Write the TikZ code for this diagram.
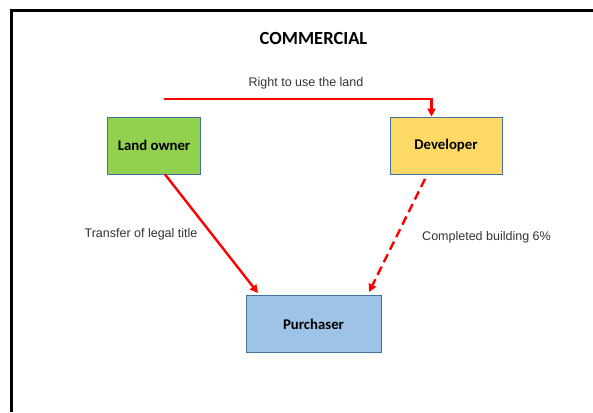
\documentclass[tikz,border=0pt]{standalone}
\usepackage{fontspec}
\setmainfont{Carlito}
\newfontfamily\arialfont{Liberation Sans}
\usepackage{tikz}
\usetikzlibrary{arrows.meta}
\definecolor{boxgreen}{HTML}{92D050}
\definecolor{boxyellow}{HTML}{FFD966}
\definecolor{boxblue}{HTML}{9DC3E6}
\definecolor{boxline}{HTML}{41719C}
\definecolor{labelgray}{HTML}{333333}

\begin{document}
\begin{tikzpicture}[x=1pt,y=-1pt,>={Triangle[length=8pt,width=8pt]},
                    line width=2.4pt]
  \tikzstyle{every party}=[draw=boxline,line width=0.8pt,inner sep=0pt,
                           font=\fontsize{14.8}{16}\selectfont\bfseries]
  \tikzstyle{flow}=[->,red]
  \tikzstyle{flowtext}=[font=\arialfont\fontsize{12.5}{14}\selectfont,
                        text=labelgray,inner sep=0pt]

  \useasboundingbox (0,0) rectangle (593,412);
  % frame of the slide
  \draw[line width=3pt] (593,11) -- (11.5,11) -- (11.5,412);

  \node[font=\fontsize{18.5}{20}\selectfont\bfseries] (T) at (313.5,38) {COMMERCIAL};

  \node[every party,fill=boxgreen,minimum width=93pt,minimum height=57pt]
        (L) at (154,145.5) {Land owner};
  \node[every party,fill=boxyellow,minimum width=112pt,minimum height=57pt]
        (D) at (446,145.5) {Developer};
  \node[every party,fill=boxblue,minimum width=135pt,minimum height=57pt]
        (P) at (313.5,324) {Purchaser};

  \node[flowtext] (R)  at (306,83)    {Right to use the land};
  \node[flowtext] (Tt) at (141,234.5) {Transfer of legal title};
  \node[flowtext] (Cb) at (486.5,237) {Completed building 6\%};

  \coordinate (S) at (164,99);
  \draw[flow] (S) -| ([xshift=-14.5pt]D.north);
  \draw[flow] ([xshift=11pt]L.south) -- ([xshift=-55.5pt,yshift=2pt]P.north);
  \draw[flow,dash pattern=on 9pt off 5pt]
        ([xshift=-21pt,yshift=-4.5pt]D.south) -- ([xshift=55.5pt,yshift=3pt]P.north);
\end{tikzpicture}
\end{document}
